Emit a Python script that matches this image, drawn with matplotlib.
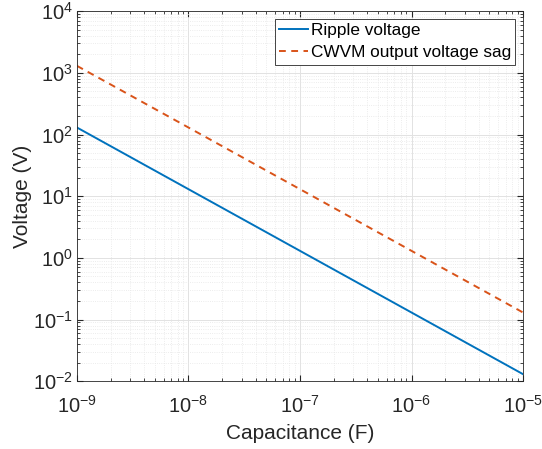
import matplotlib
matplotlib.use("Agg")
import matplotlib.pyplot as plt
import numpy as np
from matplotlib.ticker import LogLocator, NullFormatter

plt.rcParams['font.family'] = ['Liberation Sans', 'DejaVu Sans']
plt.rcParams['mathtext.fontset'] = 'custom'
plt.rcParams['mathtext.rm'] = 'Liberation Sans'
plt.rcParams['mathtext.it'] = 'Liberation Sans'

capacitance = [1e-9, 1e-8, 1e-7, 1e-6, 1e-5]
ripple_voltage = [130, 13, 1.3, 0.13, 0.013]
voltage_sag = [1300, 130, 13, 1.3, 0.13]

fig = plt.figure(figsize=(5.42, 4.49), dpi=100)
ax = fig.add_axes([0.142, 0.151, 0.823, 0.824])

ax.loglog(capacitance, ripple_voltage, color='#0072BD', lw=1.4, label='Ripple voltage')
ax.loglog(capacitance, voltage_sag, color='#D95319', lw=1.4, ls=(0, (3.5, 2.8)),
          label='CWVM output voltage sag')

ax.set_xlim(1e-9, 1e-5)
ax.set_ylim(1e-2, 1e4)
ax.xaxis.set_major_locator(LogLocator(base=10, numticks=10))
ax.yaxis.set_major_locator(LogLocator(base=10, numticks=10))
ax.xaxis.set_minor_locator(LogLocator(base=10, subs=np.arange(2, 10), numticks=20))
ax.yaxis.set_minor_locator(LogLocator(base=10, subs=np.arange(2, 10), numticks=20))
ax.xaxis.set_minor_formatter(NullFormatter())
ax.yaxis.set_minor_formatter(NullFormatter())

ax.grid(True, which='major', color='#e2e2e2', lw=0.7)
ax.grid(True, which='minor', color='#e6e6e6', lw=0.6, ls=':')
ax.set_axisbelow(True)

for s in ax.spines.values():
    s.set_color('#262626')
    s.set_linewidth(0.6)
ax.tick_params(which='both', direction='in', top=True, right=True, colors='#262626',
               labelsize=14.5, labelcolor='#262626')
ax.tick_params(which='major', length=4)
ax.tick_params(which='minor', length=2)
ax.tick_params(axis='x', pad=10)
ax.tick_params(axis='y', pad=3)

ax.set_xlabel('Capacitance (F)', fontsize=15, color='#262626', labelpad=5)
ax.set_ylabel('Voltage (V)', fontsize=15, color='#262626')
ax.yaxis.set_label_coords(-0.101, 0.5)

leg = ax.legend(loc='upper right', fontsize=12.4, fancybox=False, framealpha=1,
                edgecolor='#262626', borderaxespad=0.45, handlelength=1.7,
                borderpad=0.25, labelspacing=0.4, handletextpad=0.15)
leg.get_frame().set_linewidth(0.6)

fig.savefig('out.png', dpi=100)
